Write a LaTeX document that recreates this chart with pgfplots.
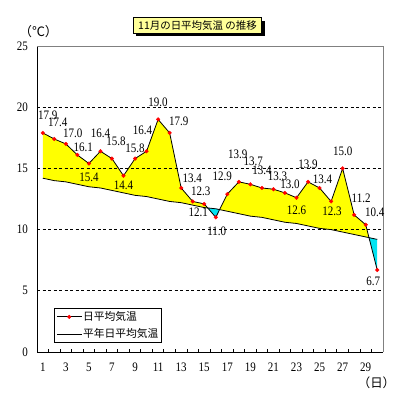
\documentclass[border=0pt]{standalone}
\usepackage{fontspec}
\setmainfont{Liberation Serif}
\newfontfamily\jp{Noto Sans CJK JP}
\newfontfamily\numfont[FakeStretch=0.85]{Liberation Serif}
\usepackage{pgfplots}
\usepackage{pgfplotstable}
\pgfplotsset{compat=1.18}
\usepgfplotslibrary{fillbetween}

\definecolor{lyel}{RGB}{255,255,153}
\definecolor{fyel}{RGB}{255,255,0}
\definecolor{fcyan}{RGB}{0,228,242}

\pgfplotstableread{
day act norm
1 17.9 14.2
2 17.4 14.0
3 17.0 13.9
4 16.1 13.7
5 15.4 13.5
6 16.4 13.4
7 15.8 13.2
8 14.4 13.0
9 15.8 12.8
10 16.4 12.7
11 19.0 12.5
12 17.9 12.3
13 13.4 12.2
14 12.3 12.0
15 12.1 11.8
16 11.0 11.7
17 12.9 11.5
18 13.9 11.3
19 13.7 11.1
20 13.4 11.0
21 13.3 10.8
22 13.0 10.6
23 12.6 10.5
24 13.9 10.3
25 13.4 10.1
26 12.3 10.0
27 15.0 9.8
28 11.2 9.6
29 10.4 9.4
30 6.7 9.2
}\data

\newcommand\numsize{\numfont\fontsize{13}{13}\selectfont}
\newcommand\lab[4]{\node[font=\numsize, inner sep=0pt, xshift=#3bp, yshift=#4bp] at (axis cs:#1,#2) {#2};}

\begin{document}
\begin{tikzpicture}
\path (0bp,0bp) rectangle (399bp,400bp);
\begin{axis}[
  at={(37bp,48bp)}, anchor=south west,
  width=346bp, height=306bp, scale only axis,
  xmin=0.5, xmax=30.5, ymin=0, ymax=25,
  axis lines=left,
  axis line style={-, black, line width=0.8bp},
  clip=false,
  xtick={1,3,...,29},
  minor xtick={0.5,1.5,...,30.5},
  ytick={0,5,...,25},
  major tick length=0pt,
  minor tick length=3bp,
  tick align=inside,
  tick style={black, line width=0.8bp},
  extra y ticks={5,10,15,20},
  extra y tick labels={},
  extra y tick style={grid=major, major grid style={black, line width=0.7bp, dash pattern=on 3bp off 2.5bp}},
  /pgf/number format/assume math mode=true,
  ticklabel style={font=\numsize},
  xticklabel style={inner sep=0pt, yshift=-11bp},
  yticklabel style={anchor=east, inner sep=0pt, xshift=-9bp},
  legend image code/.code={%
    \draw[mark repeat=2,mark phase=2,#1] plot coordinates {(0bp,0bp) (12.5bp,0bp) (25bp,0bp)};},
  legend style={at={(0.049,0.029)}, anchor=south west, draw=black, fill=white,
    line width=0.8bp, inner xsep=2bp, inner ysep=2.5bp, row sep=4.5bp,
    font=\jp\fontsize{10.8}{12}\selectfont,
    nodes={inner sep=1bp}},
  legend cell align=left,
]
\addplot[name path=act, black, line width=0.8bp, mark=*, mark size=1.9bp,
  mark options={fill=red, draw=red, line width=0.3bp}] table[x=day, y=act] {\data};
\addlegendentry{日平均気温}
\addplot[name path=norm, black, line width=0.8bp] table[x=day, y=norm] {\data};
\addlegendentry{平年日平均気温}
\addplot[forget plot] fill between[of=act and norm, split, on layer=axis background,
  every even segment/.style={fill=fyel},
  every odd segment/.style={fill=fcyan}];
\draw[gray, line width=0.8bp] (rel axis cs:0,1) -- (rel axis cs:1,1) -- (rel axis cs:1,0);
\lab{1}{17.9}{5}{18}
\lab{2}{17.4}{3.5}{16.5}
\lab{3}{17.0}{7}{11}
\lab{4}{16.1}{6}{7.5}
\lab{5}{15.4}{0}{-14}
\lab{6}{16.4}{0}{18}
\lab{7}{15.8}{4}{17}
\lab{8}{14.4}{0}{-10}
\lab{9}{15.8}{0}{10}
\lab{10}{16.4}{-4}{21}
\lab{11}{19.0}{0}{17}
\lab{12}{17.9}{9}{12}
\lab{13}{13.4}{11}{10}
\lab{14}{12.3}{8}{10}
\lab{15}{12.1}{-6}{-8.5}
\lab{16}{11.0}{1}{-14}
\lab{17}{12.9}{-5}{17.5}
\lab{18}{13.9}{-1}{28}
\lab{19}{13.7}{3}{23}
\lab{20}{13.4}{0}{18}
\lab{21}{13.3}{4}{13}
\lab{22}{13.0}{5}{9}
\lab{23}{12.6}{0}{-13}
\lab{24}{13.9}{0}{18}
\lab{25}{13.4}{3}{9}
\lab{26}{12.3}{1}{-10}
\lab{27}{15.0}{0}{17}
\lab{28}{11.2}{7}{17}
\lab{29}{10.4}{9}{12}
\lab{30}{6.7}{-4}{-11}
\end{axis}
% title box with shadow
\fill[black] (136.3bp,363.7bp) rectangle (264.7bp,379.3bp);
\draw[black, line width=0.8bp, fill=lyel] (133.3bp,366.7bp) rectangle (261.7bp,382.3bp);
\node[font=\jp\fontsize{10.5}{12}\selectfont, inner sep=0pt] at (197.5bp,374.5bp) {11月の日平均気温 の推移};
\node[font=\jp\fontsize{13}{13}\selectfont, inner sep=0pt] at (38.5bp,368bp) {（℃）};
\node[font=\jp\fontsize{12.5}{13}\selectfont, inner sep=0pt] at (376.5bp,17bp) {（日）};
\end{tikzpicture}
\end{document}
